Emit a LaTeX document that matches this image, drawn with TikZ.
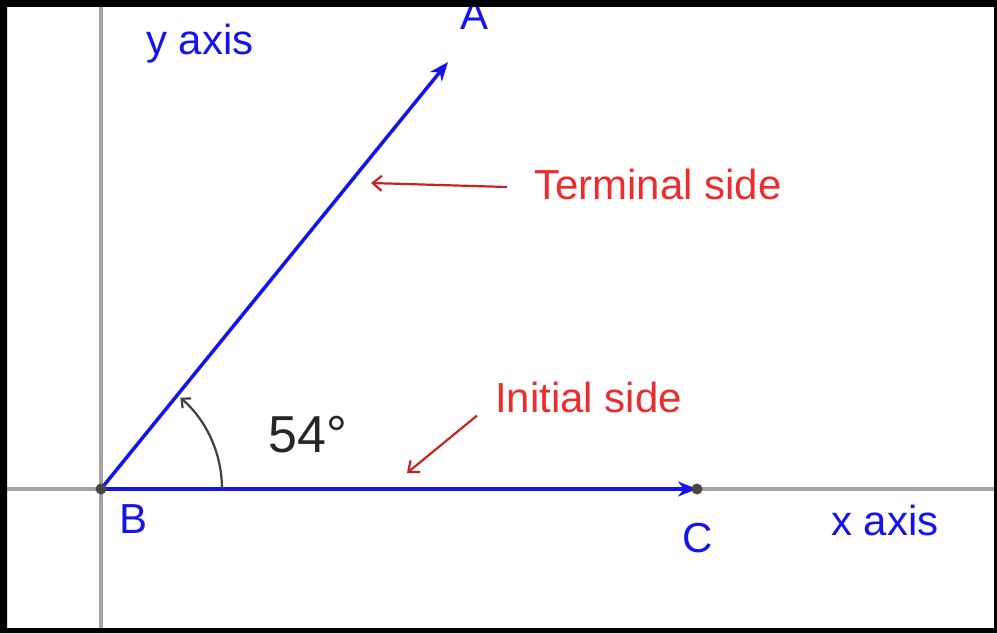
\documentclass[tikz,border=0pt]{standalone}
\usepackage{fontspec}
\setmainfont{Liberation Sans}
\usetikzlibrary{arrows.meta}
\definecolor{ggblue}{RGB}{20,20,235}
\definecolor{axisgray}{RGB}{165,165,165}
\definecolor{lblred}{RGB}{235,45,45}
\definecolor{arrred}{RGB}{200,35,35}
\definecolor{dotgray}{RGB}{70,70,70}
\begin{document}
\begin{tikzpicture}[x=1pt,y=1pt,
  lbl/.style={anchor=base west,inner sep=0pt,font=\fontsize{42}{50}\selectfont},
  bluelbl/.style={lbl,text=ggblue},
  redlbl/.style={lbl,text=lblred},
  side/.style={ggblue,line width=3.5pt,-{Stealth[length=19pt,width=15pt,inset=6pt]}},
  pointer/.style={arrred,line width=2.2pt,-{Straight Barb[length=9pt,width=15pt]}},
  axis/.style={axisgray,line width=4.5pt},
  dot/.style={circle,fill=dotgray,inner sep=0pt,minimum size=11pt}]
\useasboundingbox (0,0) rectangle (997,633);
\fill[white] (0,0) rectangle (997,633);
% axes
\coordinate (ytop) at (101,633);
\coordinate (ybot) at (101,0);
\coordinate (xl) at (0,144);
\coordinate (xr) at (997,144);
\draw[axis] (ybot) -- (ytop);
\draw[axis] (xl) -- (xr);
% points
\coordinate (B) at (101,144);
\coordinate (C) at (697,144);
\coordinate (A) at (448,571);
\coordinate (arcstart) at (222,144);
% sides
\draw[side] (B) -- (C);
\draw[side] (B) -- (A);
\node[dot] (Bdot) at (B) {};
\node[dot] (Cdot) at (C) {};
% angle arc
\draw[black!75,line width=2.2pt,-{Straight Barb[length=7pt,width=13pt]}] (arcstart) arc[start angle=0,end angle=49,radius=121];
% labels
\node[bluelbl] (ylab) at (146,578) {y axis};
\node[bluelbl,anchor=base] (Alab) at (475,603) {A};
\node[bluelbl] (Blab) at (119,100) {B};
\node[bluelbl] (Clab) at (682,81) {C};
\node[bluelbl] (xlab) at (831,98) {x axis};
\node[redlbl] (term) at (534,433) {Terminal side};
\node[redlbl] (init) at (495,221) {Initial side};
\node[anchor=base west,inner sep=0pt,font=\fontsize{52}{60}\selectfont,text=black!85] (deg) at (268,181) {54°};
% pointers
\coordinate (termtip) at (371,450);
\coordinate (inittip) at (407,160);
\draw[pointer] (term.west |- 0,446) ++(-27,0) -- (termtip);
\draw[pointer] (init.south west) ++(-18,-3) -- (inittip);
% frame
\fill[black,even odd rule] (0,0) rectangle (997,633) (7,5) rectangle (994,626);
\end{tikzpicture}
\end{document}
